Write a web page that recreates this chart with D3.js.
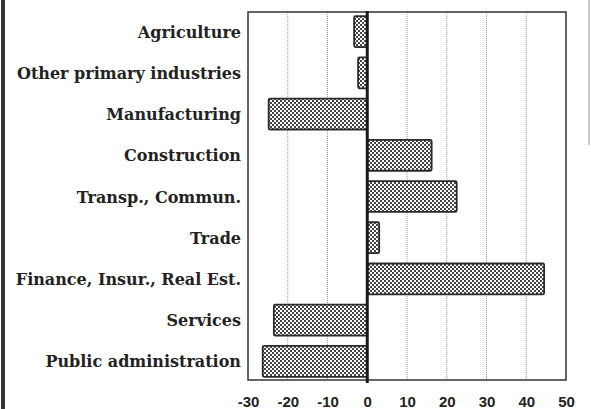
<!DOCTYPE html>
<html>
<head>
<meta charset="utf-8">
<title>Employment change by industry</title>
<script src="https://d3js.org/d3.v7.min.js"></script>
<style>
  body { margin: 0; background: #fff; }
  svg { display: block; }
</style>
</head>
<body>
<div id="chart"></div>
<script>
// industries, top to bottom
var categories = ["Agriculture", "Other primary industries", "Manufacturing",
  "Construction", "Transp., Commun.", "Trade", "Finance, Insur., Real Est.",
  "Services", "Public administration"];
// percent change
var values = [-3.3, -2.3, -24.8, 16.2, 22.5, 3, 44.5, -23.5, -26.3];
var tickValues = [-30, -20, -10, 0, 10, 20, 30, 40, 50];

var width = 591, height = 409;
var plotLeft = 248, plotRight = 566, plotTop = 12, plotBottom = 380;

var svg = d3.select("#chart").append("svg")
  .attr("width", width)
  .attr("height", height);

// dotted fill used for the bars
var pat = svg.append("defs").append("pattern")
  .attr("id", "dots")
  .attr("width", 4).attr("height", 4)
  .attr("patternUnits", "userSpaceOnUse");
pat.append("rect").attr("width", 4).attr("height", 4).attr("fill", "#fff");
pat.append("rect").attr("width", 2).attr("height", 2).attr("fill", "#444");
pat.append("rect").attr("x", 2).attr("y", 2).attr("width", 2).attr("height", 2).attr("fill", "#444");

var x = d3.scaleLinear().domain([-30, 50]).range([plotLeft, plotRight]);
var y = d3.scaleBand().domain(categories).range([11, 382])
  .paddingInner(0.25).paddingOuter(0.125);

// scan edge on the left
svg.append("line")
  .attr("x1", 3).attr("x2", 3).attr("y1", 0).attr("y2", height)
  .attr("stroke", "#333").attr("stroke-width", 4);
svg.append("line")
  .attr("x1", 589).attr("x2", 589).attr("y1", 0).attr("y2", 145)
  .attr("stroke", "#999").attr("stroke-width", 1);

// dotted gridlines
svg.append("g").selectAll("line")
  .data(tickValues.filter(function(d) { return d != 0 && d != -30 && d != 50; }))
  .enter().append("line")
  .attr("x1", function(d) { return x(d); })
  .attr("x2", function(d) { return x(d); })
  .attr("y1", plotTop).attr("y2", plotBottom)
  .attr("stroke", "#999")
  .attr("stroke-width", 1)
  .attr("stroke-dasharray", "1,1");

// frame
svg.append("rect")
  .attr("x", plotLeft).attr("y", plotTop)
  .attr("width", plotRight - plotLeft).attr("height", plotBottom - plotTop)
  .attr("fill", "none")
  .attr("stroke", "#333")
  .attr("stroke-width", 1.5);

// bars
svg.append("g").selectAll("rect")
  .data(values)
  .enter().append("rect")
  .attr("x", function(d) { return Math.min(x(d), x(0)); })
  .attr("y", function(d, i) { return y(categories[i]); })
  .attr("width", function(d) { return Math.abs(x(d) - x(0)); })
  .attr("height", y.bandwidth())
  .attr("rx", 1.5)
  .attr("fill", "url(#dots)")
  .attr("stroke", "#2a2a2a")
  .attr("stroke-width", 1.8);

// zero line
svg.append("line")
  .attr("x1", x(0)).attr("x2", x(0))
  .attr("y1", plotTop - 1).attr("y2", plotBottom + 3)
  .attr("stroke", "#1a1a1a")
  .attr("stroke-width", 3);

// category labels
svg.append("g").selectAll("text")
  .data(categories)
  .enter().append("text")
  .attr("x", 241)
  .attr("y", function(d) { return y(d) + y.bandwidth() / 2 + 6; })
  .attr("text-anchor", "end")
  .attr("font-family", "DejaVu Serif")
  .attr("font-weight", "bold")
  .attr("font-size", 16)
  .attr("fill", "#222")
  .text(function(d) { return d; });

// x axis labels
var axis = d3.axisBottom(x).tickValues(tickValues)
  .tickFormat(function(d) { return String(d); })
  .tickSize(0).tickPadding(0);
var gx = svg.append("g")
  .attr("transform", "translate(0," + (plotBottom + 16) + ")")
  .call(axis);
gx.select(".domain").remove();
gx.selectAll("text")
  .attr("font-family", "Liberation Sans")
  .attr("font-weight", "bold")
  .attr("font-size", 15)
  .attr("fill", "#222");
</script>
</body>
</html>
